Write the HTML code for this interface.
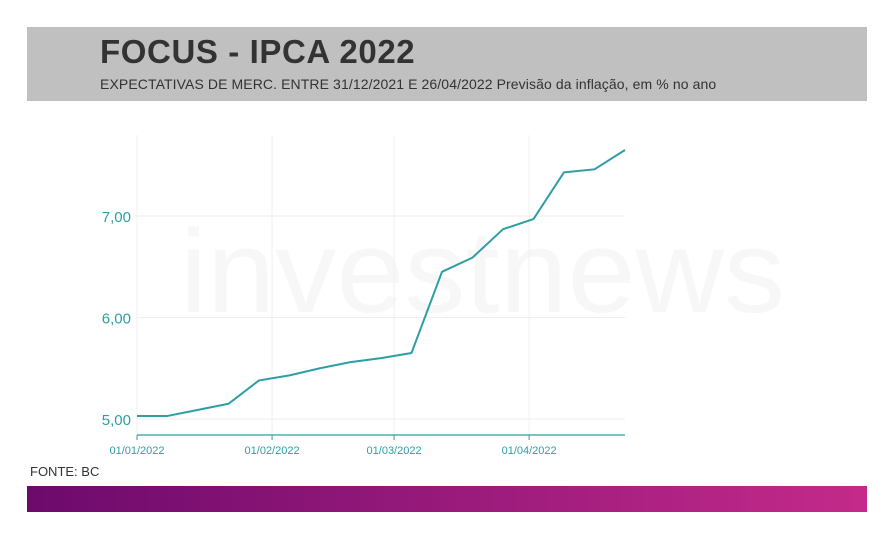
<!DOCTYPE html>
<html><head><meta charset="utf-8"><style>
body{margin:0;width:895px;height:540px;background:#fff;font-family:"Liberation Sans",sans-serif;overflow:hidden;position:relative}
#hdr{position:absolute;left:27px;top:27px;width:840px;height:74px;background:#c0c0c0}
#title{position:absolute;left:100px;top:33px;font-size:33px;font-weight:bold;color:#333;letter-spacing:0.6px}
#sub{position:absolute;left:100px;top:76px;font-size:14px;color:#333;letter-spacing:0.1px}
#src{position:absolute;left:30px;top:464px;font-size:13px;color:#333}
#bar{position:absolute;left:27px;top:486px;width:840px;height:26px;background:linear-gradient(90deg,#6c0a6c,#c42a8a)}
svg{position:absolute;left:0;top:0}
</style></head><body>
<div id="hdr"></div>
<div id="title">FOCUS - IPCA 2022</div>
<div id="sub">EXPECTATIVAS DE MERC. ENTRE 31/12/2021 E 26/04/2022 Previsão da inflação, em % no ano</div>
<svg id="chart" width="895" height="540">
<text x="180" y="312" font-size="118" fill="#f7f7f7" font-family="Liberation Sans" textLength="605" lengthAdjust="spacingAndGlyphs">investnews</text>
</svg>
<div id="src">FONTE: BC</div>
<div id="bar"></div>
<script>
const days=[0,7,14,21,28,35,42,49,56,63,70,77,84,91,98,105,112];
const values=[5.03,5.03,5.09,5.15,5.38,5.43,5.50,5.56,5.60,5.65,6.45,6.59,6.87,6.97,7.43,7.46,7.65];
const yTicks=[5,6,7];
const yTickLabels=["5,00","6,00","7,00"];
const xTickDays=[0,31,59,90];
const xTickLabels=["01/01/2022","01/02/2022","01/03/2022","01/04/2022"];
const NS="http://www.w3.org/2000/svg";
const svg=document.getElementById('chart');
const X=d=>137+d*4.357;
const Y=v=>419-(v-5)*101.5;
function mk(t,a){const e=document.createElementNS(NS,t);for(const k in a)e.setAttribute(k,a[k]);svg.appendChild(e);return e;}
yTicks.forEach((v,i)=>{
 const g=mk('line',{x1:137,x2:625,y1:Y(v),y2:Y(v),stroke:'#eeeeee'});
 
 
 const t=mk('text',{x:131,y:Y(v)+6,'text-anchor':'end','font-size':15,fill:'#2e9ea5'});
 t.textContent=yTickLabels[i];
 
 
});
xTickDays.forEach((d,i)=>{
 const g=mk('line',{x1:X(d),x2:X(d),y1:135,y2:435,stroke:'#f0f0f0'});
 
 
 const tk=mk('line',{x1:X(d),x2:X(d),y1:435,y2:440,stroke:'#2e9ea5'});
 
 
 const t=mk('text',{x:X(d),y:454,'text-anchor':'middle','font-size':11,fill:'#2e9ea5'});
 t.textContent=xTickLabels[i];
 
 
});
const ax=mk('line',{x1:137,x2:625,y1:435,y2:435,stroke:'#2e9ea5','stroke-width':1.2});


const p=mk('polyline',{points:days.map((d,i)=>X(d)+','+Y(values[i])).join(' '),fill:'none',stroke:'#2e9ea5','stroke-width':2,'stroke-linejoin':'round'});


</script>
</body></html>
